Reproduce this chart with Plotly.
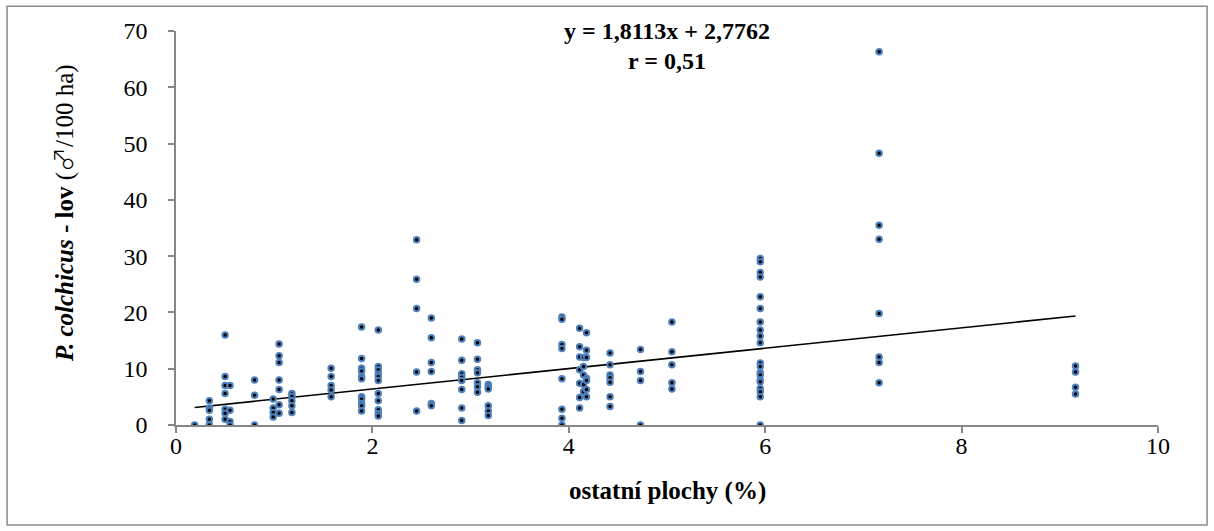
import plotly.graph_objects as go

# x positions (ostatní plochy, %) and the values observed at each position
x_groups = [0.19, 0.34, 0.50, 0.55, 0.80, 0.99, 1.05, 1.18, 1.58, 1.89, 2.06, 2.45,
            2.60, 2.91, 3.07, 3.18, 3.93, 4.11, 4.15, 4.18, 4.42, 4.73, 5.05, 5.95,
            7.16, 9.16]
y_groups = [
    [0],
    [4.3, 3.0, 2.6, 1.0, 0, 0],
    [16.0, 8.6, 7.0, 5.6, 2.8, 2.1, 1.0],
    [7.0, 2.6, 0.6, 0],
    [8.0, 5.3, 0],
    [4.6, 3.0, 2.2, 1.4],
    [14.4, 12.3, 11.1, 8.0, 6.3, 3.6, 2.1],
    [5.6, 5.1, 4.3, 3.4, 2.2],
    [10.1, 8.6, 7.0, 6.2, 5.0],
    [17.4, 11.8, 10.1, 9.6, 8.6, 8.2, 5.0, 4.6, 3.8, 3.4, 2.5],
    [16.9, 10.4, 9.8, 9.0, 8.6, 7.9, 5.6, 4.3, 2.7, 2.0, 1.6],
    [32.9, 25.9, 20.7, 9.4, 2.5],
    [19.0, 15.5, 11.1, 9.5, 3.8, 3.4],
    [15.3, 11.5, 9.1, 8.5, 7.9, 6.3, 3.0, 0.8],
    [14.6, 11.7, 9.8, 9.3, 7.5, 6.8, 5.8],
    [7.2, 6.8, 6.4, 3.4, 2.5, 1.7],
    [19.2, 18.8, 14.3, 13.6, 8.2, 2.8, 1.2, 0],
    [17.2, 13.9, 12.1, 9.8, 7.4, 4.9, 3.0],
    [12.0, 10.4, 8.9, 7.2, 5.9],
    [16.4, 13.3, 12.0, 8.3, 7.9, 6.3, 5.0],
    [12.8, 10.7, 8.9, 8.4, 7.6, 5.0, 3.3],
    [13.4, 9.5, 7.9, 0],
    [18.3, 13.0, 10.7, 7.5, 6.4],
    [29.6, 29.0, 27.1, 26.3, 22.8, 20.7, 18.3, 16.9, 15.8, 14.6, 11.0, 10.4, 9.3,
     8.9, 8.0, 7.7, 6.5, 5.9, 5.0, 0],
    [66.3, 48.3, 35.5, 33.0, 19.8, 12.1, 11.1, 7.5],
    [10.5, 9.4, 6.7, 5.5],
]

slope = 1.8113
intercept = 2.7762
r_value = "0,51"

x_ticks = [0, 2, 4, 6, 8, 10]
y_ticks = [0, 10, 20, 30, 40, 50, 60, 70]

xs, ys = [], []
for xv, yl in zip(x_groups, y_groups):
    for yv in yl:
        xs.append(xv)
        ys.append(yv)

x_lo, x_hi = min(xs), max(xs)

FONT = "Liberation Serif"
AXIS_COLOR = "#868686"

fig = go.Figure()
fig.add_trace(go.Scatter(
    x=[x_lo, x_hi], y=[slope * x_lo + intercept, slope * x_hi + intercept],
    mode="lines", line=dict(color="black", width=1.6), hoverinfo="skip",
    showlegend=False))
fig.add_trace(go.Scatter(
    x=xs, y=ys, mode="markers",
    marker=dict(size=5.5, color="black", line=dict(color="#4F81BD", width=2)),
    showlegend=False))

fig.update_layout(
    width=1214, height=531,
    margin=dict(l=176, r=56, t=31, b=106),
    paper_bgcolor="white", plot_bgcolor="white",
    font=dict(family=FONT, size=24, color="black"),
    xaxis=dict(range=[0, 10], tickvals=x_ticks, showgrid=False, zeroline=False,
               showline=True, linecolor=AXIS_COLOR, linewidth=1.5,
               ticks="outside", ticklen=6, tickcolor=AXIS_COLOR, tickwidth=1.5,
               tickfont=dict(family=FONT, size=24), ticklabelstandoff=-8),
    yaxis=dict(range=[0, 70], tickvals=y_ticks, showgrid=False, zeroline=False,
               showline=True, linecolor=AXIS_COLOR, linewidth=1.5,
               ticks="outside", ticklen=6, tickcolor=AXIS_COLOR, tickwidth=1.5,
               tickfont=dict(family=FONT, size=24), ticklabelstandoff=16),
    shapes=[dict(type="rect", xref="paper", yref="paper",
                 x0=-0.172, x1=1.050, y0=-0.254, y1=1.063,
                 line=dict(color="#8C8C8C", width=1.5), fillcolor="rgba(0,0,0,0)",
                 layer="below")],
    annotations=[
        dict(text=f"<b>y = {str(slope).replace('.', ',')}x + {str(intercept).replace('.', ',')}</b>",
             xref="paper", yref="paper", x=0.5, y=1.0, yanchor="middle",
             showarrow=False, font=dict(family=FONT, size=24)),
        dict(text=f"<b>r = {r_value}</b>",
             xref="paper", yref="paper", x=0.5, y=0.924, yanchor="middle",
             showarrow=False, font=dict(family=FONT, size=24)),
        dict(text="<b>ostatní plochy (%)</b>", xref="paper", yref="paper",
             x=0.5, y=-0.168, yanchor="middle", showarrow=False,
             font=dict(family=FONT, size=25)),
        dict(text="<b><i>P. colchicus</i> - lov</b> (<span style=\"font-family:'Noto Sans CJK JP';font-weight:300\">♂</span>/100 ha)",
             xref="paper", yref="paper",
             x=-0.116, y=0.538, xanchor="center", yanchor="middle", textangle=-90,
             showarrow=False, font=dict(family=FONT, size=25)),
    ],
)

fig.write_html("out.html", config={"displayModeBar": False},
               post_script="document.body.style.margin='0';document.body.style.padding='0';")
